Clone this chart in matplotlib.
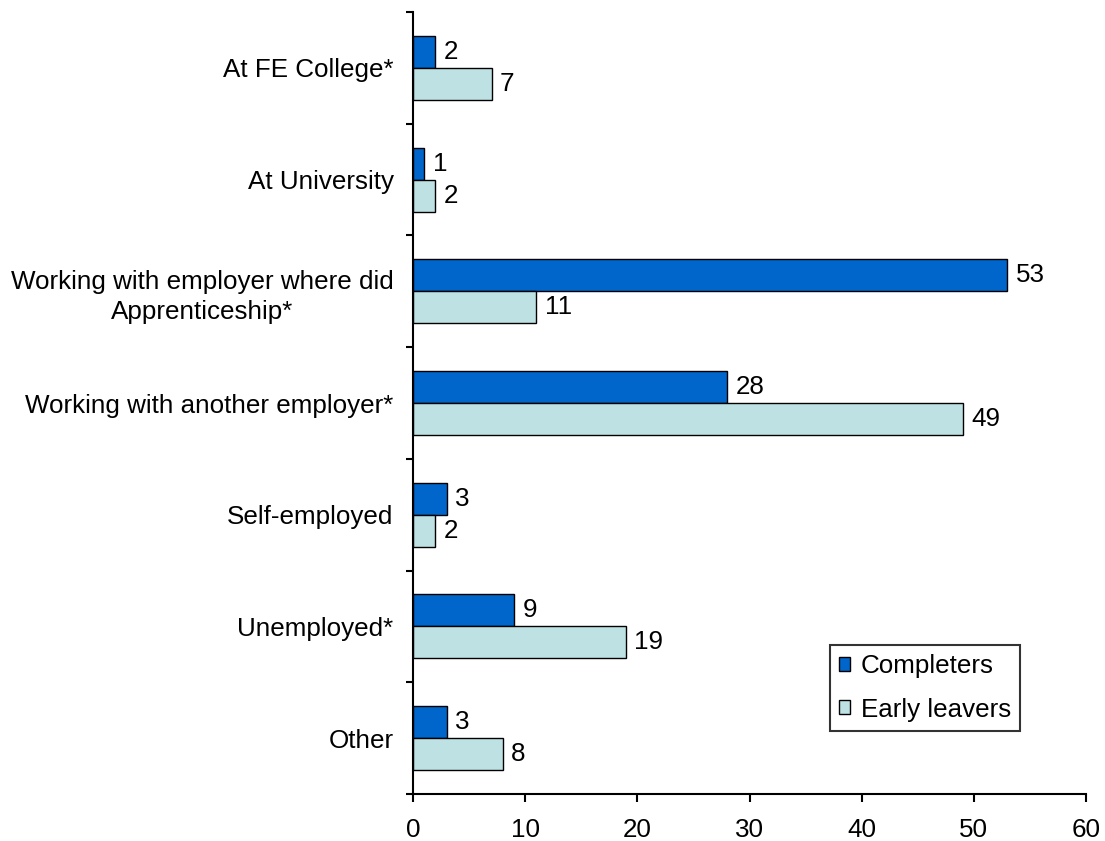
import numpy as np
import matplotlib
matplotlib.use("Agg")
from matplotlib import pyplot as plt

# Destinations after the apprenticeship (%)
categories = ["At FE College*", "At University",
              "Working with employer where did\nApprenticeship*",
              "Working with another employer*", "Self-employed",
              "Unemployed*", "Other"]
completers = [2, 1, 53, 28, 3, 9, 3]
early_leavers = [7, 2, 11, 49, 2, 19, 8]

plt.rcParams['font.family'] = ['Liberation Sans', 'DejaVu Sans']
plt.rcParams['font.size'] = 18.7

fig = plt.figure(figsize=(11.05, 8.41), dpi=100)
ax = fig.add_axes([0.3738, 0.0559, 0.609, 0.9298])

y = np.arange(len(categories))
h = 0.286
bars_c = ax.barh(y - h / 2, completers, height=h, color='#0066CC',
                 edgecolor='black', linewidth=1.0, label='Completers')
bars_e = ax.barh(y + h / 2, early_leavers, height=h, color='#BEE2E4',
                 edgecolor='black', linewidth=1.0, label='Early leavers')

for bars, vals in ((bars_c, completers), (bars_e, early_leavers)):
    for b, v in zip(bars, vals):
        ax.annotate(str(v), (v, b.get_y() + b.get_height() / 2),
                    xytext=(6, 0), textcoords='offset points',
                    va='center', ha='left')

ax.set_xlim(0, 60)
ax.set_ylim(len(categories) - 0.5, -0.5)
ax.set_xticks(np.arange(0, 61, 10))
ax.tick_params(axis='x', direction='out', length=6, width=1.5, pad=11)

# boundary ticks on the y axis, labels centred in each band
ax.set_yticks(np.arange(-0.5, len(categories)), labels=[''] * (len(categories) + 1))
ax.tick_params(axis='y', which='major', direction='out', length=5, width=1.5)
ax.set_yticks(y, labels=categories, minor=True)
ax.tick_params(axis='y', which='minor', length=0, pad=14)
for lbl in ax.get_yticklabels(minor=True):
    lbl.set_multialignment('center')
    lbl.set_linespacing(1.35)

for s in ('top', 'right'):
    ax.spines[s].set_visible(False)
for s in ('left', 'bottom'):
    ax.spines[s].set_linewidth(1.5)

leg = ax.legend(loc='lower right', bbox_to_anchor=(0.902, 0.081), frameon=True,
                fancybox=False, edgecolor='black',
                handlelength=0.45, handleheight=0.45, handletextpad=0.4,
                borderpad=0.35, labelspacing=0.75, borderaxespad=0)
leg.get_frame().set_linewidth(1.5)

fig.savefig('out.png', dpi=100)
